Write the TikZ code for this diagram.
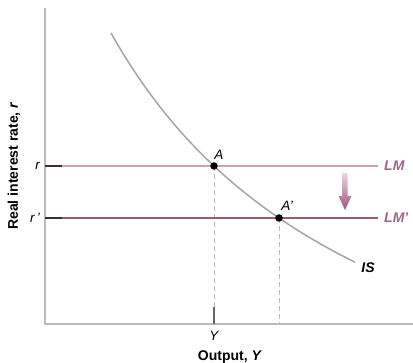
\documentclass[tikz,border=0pt]{standalone}
\usepackage{fontspec}
\setmainfont{Liberation Sans}
\usetikzlibrary{arrows.meta}
\definecolor{axisgray}{RGB}{188,188,188}
\definecolor{isgray}{RGB}{165,165,165}
\definecolor{lmlight}{RGB}{206,160,184}
\definecolor{lmdark}{RGB}{156,88,124}
\definecolor{lmtext}{RGB}{165,98,137}
\definecolor{tickdark}{RGB}{60,45,52}
\definecolor{tickgray}{RGB}{100,100,100}
\definecolor{arrtop}{RGB}{236,212,224}
\definecolor{arrbot}{RGB}{160,86,126}
\tikzset{
  axisline/.style={draw=axisgray, line width=1.1pt},
  dropline/.style={draw=axisgray, line width=0.9pt, dash pattern=on 5pt off 3pt},
  tickline/.style={draw=tickdark, line width=1.3pt},
  eqdot/.style={circle, fill=black, inner sep=0pt, minimum size=7.5pt},
  lbl/.style={font=\fontsize{13.5}{15}\selectfont\itshape, inner sep=1pt},
  curvelbl/.style={font=\fontsize{14}{16}\selectfont\bfseries\itshape, inner sep=1pt},
  axislbl/.style={font=\fontsize{14}{16}\selectfont\bfseries, inner sep=1pt}
}
\begin{document}
\begin{tikzpicture}[x=1pt,y=-1pt]
\useasboundingbox (0,0) rectangle (413,363);
% axes
\coordinate (O) at (45,324);
\coordinate (ytop) at (45,8);
\coordinate (xend) at (413,324);
\draw[axisline] (ytop) -- (O) -- (xend);
% points
\coordinate (LMl) at (45,166);
\coordinate (LMr) at (378,166);
\coordinate (LMpl) at (45,218);
\coordinate (LMpr) at (378,218);
\coordinate (Ybase) at (214,324);
\coordinate (Ypbase) at (279,324);
% drop lines
\draw[dropline] (214,166) -- (Ybase);
\draw[dropline] (279,218) -- (Ypbase);
\draw[draw=tickgray, line width=1.4pt] (214,307) -- (Ybase);
% LM lines
\draw[draw=lmlight, line width=2pt] (LMl) -- (LMr);
\draw[draw=lmdark, line width=2pt] (LMpl) -- (LMpr);
\draw[tickline, line width=2pt] (LMl) -- (62,166);
\draw[tickline, line width=2pt] (LMpl) -- (62,218);
% IS curve
\draw[isgray, line width=1.5pt] plot[domain=111:355, samples=80, smooth]
  (\x, {519.3 - 1330.46/(\x/100 + 1.626)});
% dots
\node[eqdot] (A) at (214,166) {};
\node[eqdot] (Ap) at (279,218) {};
\node[lbl] at (219,155) {A};
\node[lbl] at (287,206) {A'};
% shift arrow
\shade[top color=arrtop, bottom color=arrbot]
  (342,173) -- (347.5,173) -- (347.5,196) -- (351.5,196) -- (345,210)
  -- (338.5,196) -- (342,196) -- cycle;
% labels
\node[curvelbl, text=lmtext, anchor=west] (LMlab) at (383,166) {LM};
\node[curvelbl, text=lmtext, anchor=west] (LMplab) at (383,218) {LM'};
\node[curvelbl, text=black] (ISlab) at (368,268) {IS};
\node[lbl, anchor=east] at (41,166) {r};
\node[lbl, anchor=east] at (41,218) {r\,'};
\node[lbl] at (214,336) {Y};
\node[axislbl] at (230,357) {Output, \textit{Y}};
\node[axislbl, rotate=90] at (14,166) {Real interest rate, \textit{r}};
\end{tikzpicture}
\end{document}
